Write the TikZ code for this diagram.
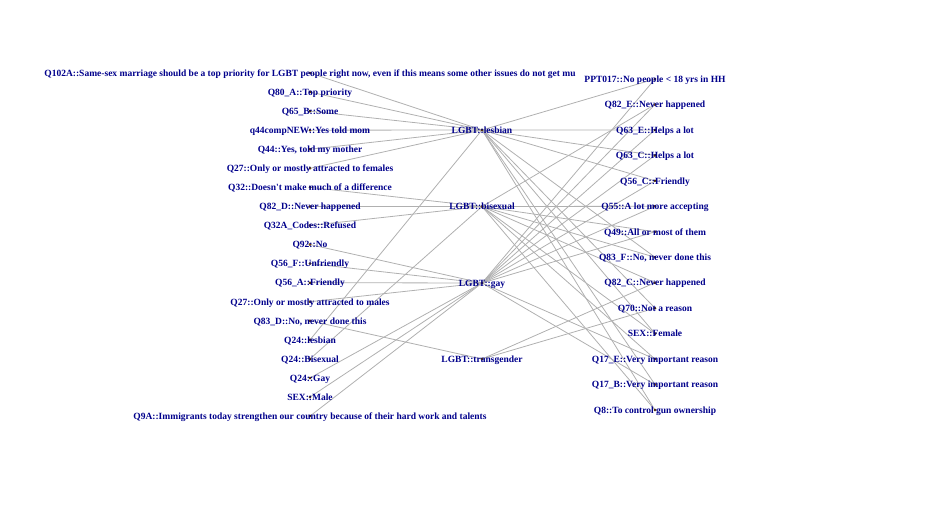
\documentclass[tikz,border=0pt]{standalone}
\usepackage{fontspec}
\setmainfont{Liberation Serif}
\definecolor{labelblue}{HTML}{00008B}
\definecolor{edgegray}{HTML}{B0B0B0}

\begin{document}
\begin{tikzpicture}[x=1pt, y=-1pt,
  edge/.style={draw=edgegray, line width=0.8pt},
  vdot/.style={circle, fill=orange, draw=black, line width=0.4pt,
    minimum size=2.2pt, inner sep=0pt},
  vlabel/.style={anchor=base, inner sep=0pt, text=labelblue,
    font=\fontsize{9.5}{11}\selectfont\bfseries}]

  \useasboundingbox (0,0) rectangle (936,504);

  % column positions and spacing
  \def\xl{310}
  \def\xm{482}
  \def\xr{655}
  \def\dl{19.06}
  \def\dr{25.46}

  % left items
  \def\leftitems{1/{Q102A::Same-sex marriage should be a top priority for LGBT people right now, even if this means some other issues do not get mu},
    2/{Q80\_A::Top priority}, 3/{Q65\_B::Some}, 4/{q44compNEW::Yes told mom},
    5/{Q44::Yes, told my mother}, 6/{Q27::Only or mostly attracted to females},
    7/{Q32::Doesn\textquotesingle t make much of a difference}, 8/{Q82\_D::Never happened},
    9/{Q32A\_Codes::Refused}, 10/{Q92::No}, 11/{Q56\_F::Unfriendly},
    12/{Q56\_A::Friendly}, 13/{Q27::Only or mostly attracted to males},
    14/{Q83\_D::No, never done this}, 15/{Q24::lesbian}, 16/{Q24::Bisexual},
    17/{Q24::Gay}, 18/{SEX::Male},
    19/{Q9A::Immigrants today strengthen our country because of their hard work and talents}}

  % right items
  \def\rightitems{1/{PPT017::No people < 18 yrs in HH}, 2/{Q82\_E::Never happened},
    3/{Q63\_E::Helps a lot}, 4/{Q63\_C::Helps a lot}, 5/{Q56\_C::Friendly},
    6/{Q55::A lot more accepting}, 7/{Q49::All or most of them},
    8/{Q83\_F::No, never done this}, 9/{Q82\_C::Never happened},
    10/{Q70::Not a reason}, 11/{SEX::Female}, 12/{Q17\_E::Very important reason},
    13/{Q17\_B::Very important reason}, 14/{Q8::To control gun ownership}}

  % group items
  \def\groupitems{lesb/130/{LGBT::lesbian}, bisex/206.5/{LGBT::bisexual},
    gay/283/{LGBT::gay}, trans/359/{LGBT::transgender}}

  % vertex positions
  \foreach \i/\t in \leftitems
    \coordinate (L\i) at (\xl,{73+\dl*(\i-1)});
  \foreach \i/\t in \rightitems
    \coordinate (R\i) at (\xr,{79+\dr*(\i-1)});
  \foreach \n/\y/\t in \groupitems
    \coordinate (\n) at (\xm,\y);

  % edges
  \foreach \a/\b in {L1/lesb, L2/lesb, L3/lesb, L4/lesb, L5/lesb, L6/lesb,
    L15/lesb, L7/bisex, L8/bisex, L9/bisex, L16/bisex, L10/gay, L11/gay,
    L12/gay, L13/gay, L17/gay, L18/gay, L19/gay, L14/trans}
    \draw[edge] (\a) -- (\b);
  \foreach \a/\b in {lesb/R1, lesb/R3, lesb/R4, lesb/R5, lesb/R8, lesb/R10,
    lesb/R11, lesb/R13, lesb/R14, bisex/R2, bisex/R6, bisex/R7, bisex/R8,
    bisex/R9, bisex/R11, bisex/R12, bisex/R14, gay/R1, gay/R2, gay/R3,
    gay/R4, gay/R5, gay/R6, gay/R7, gay/R12, gay/R13, trans/R9, trans/R10}
    \draw[edge] (\a) -- (\b);

  % vertices and labels
  \foreach \i/\t in \leftitems
  {
  \node[vdot] (dotL\i) at (L\i) {};
  \node[vlabel] (labL\i) at ([yshift=-3.3pt]L\i) {\t};
  }
  \foreach \i/\t in \rightitems
  {
  \node[vdot] (dotR\i) at (R\i) {};
  \node[vlabel] (labR\i) at ([yshift=-3.3pt]R\i) {\t};
  }
  \foreach \n/\y/\t in \groupitems
  {
  \node[vdot] (dot\n) at (\n) {};
  \node[vlabel] (lab\n) at ([yshift=-3.3pt]\n) {\t};
  }

\end{tikzpicture}
\end{document}
